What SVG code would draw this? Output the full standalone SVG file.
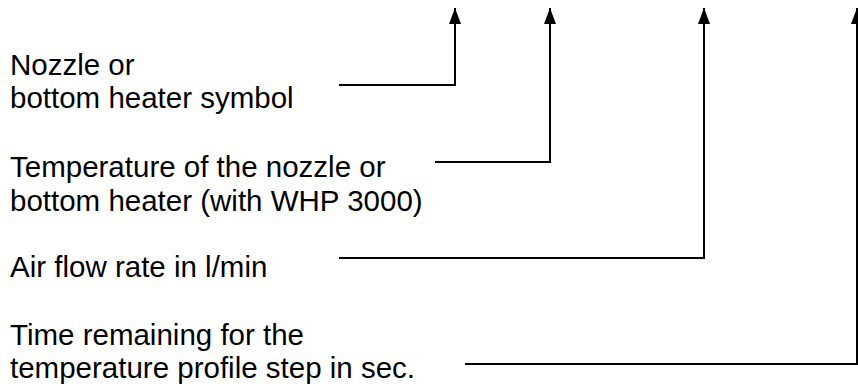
<svg xmlns="http://www.w3.org/2000/svg" width="858" height="388" viewBox="0 0 858 388">
<style>
.lbl{font-family:"Liberation Sans",Arial,sans-serif;font-size:29.5px;fill:#000}
.con{fill:none;stroke:#000;stroke-width:2}
</style>
<defs>
<marker id="ah" markerUnits="userSpaceOnUse" markerWidth="16" markerHeight="12" refX="16" refY="6" orient="auto">
<path d="M0,0 L16,6 L0,12 Z" fill="#000"/>
</marker>
</defs>
<rect width="858" height="388" fill="#fff"/>
<g id="label-symbol"><text class="lbl" x="10" y="75">Nozzle or</text><text class="lbl" x="10" y="108">bottom heater symbol</text></g>
<g id="label-temp"><text class="lbl" x="10" y="177">Temperature of the nozzle or</text><text class="lbl" x="10" y="211">bottom heater (with WHP 3000)</text></g>
<g id="label-air"><text class="lbl" x="10" y="277">Air flow rate in l/min</text></g>
<g id="label-time"><text class="lbl" x="10" y="345">Time remaining for the</text><text class="lbl" x="10" y="378">temperature profile step in sec.</text></g>
<g id="connectors">
<path class="con" d="M339,85 H455 V8" marker-end="url(#ah)"/>
<path class="con" d="M435,162 H550 V8" marker-end="url(#ah)"/>
<path class="con" d="M339,258 H704 V8" marker-end="url(#ah)"/>
<path class="con" d="M465,364 H857 V8" marker-end="url(#ah)"/>
</g>
</svg>
